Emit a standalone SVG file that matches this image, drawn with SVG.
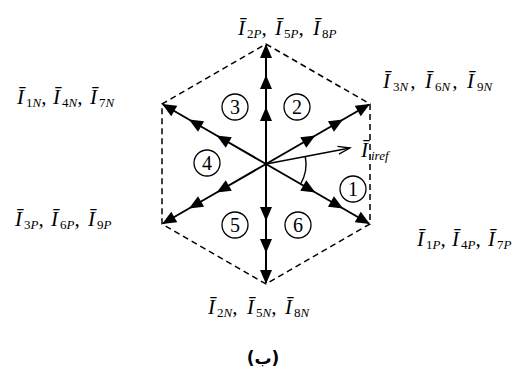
<svg xmlns="http://www.w3.org/2000/svg" width="520" height="376" viewBox="0 0 520 376">
<style>
.hex{fill:none;stroke:#000;stroke-width:1.5;stroke-dasharray:6 4}
.spoke{fill:none;stroke:#000;stroke-width:2;marker-mid:url(#ah);marker-end:url(#ah)}
.ref{fill:none;stroke:#000;stroke-width:1.4;marker-end:url(#oh)}
.arc{fill:none;stroke:#000;stroke-width:1.4}
.c{fill:none;stroke:#000;stroke-width:1.3}
.n{font-family:"Liberation Serif",serif;font-size:20px;text-anchor:middle;fill:#000}
.l{font-family:"Liberation Serif",serif;font-size:21px;font-style:italic;fill:#000}
.s{font-size:13px;font-style:normal}
.i{font-style:italic}
.cap{font-family:"DejaVu Sans",sans-serif;font-size:17px;font-weight:bold;text-anchor:middle;fill:#000}
</style>
<defs>
<marker id="ah" markerUnits="userSpaceOnUse" markerWidth="16" markerHeight="16" viewBox="-14 -8 16 16" refX="0" refY="0" orient="auto">
<path d="M1,0 L-13,-6 L-13,6 Z" fill="#000"/>
</marker>
<marker id="oh" markerUnits="userSpaceOnUse" markerWidth="16" markerHeight="16" viewBox="-14 -8 16 16" refX="0" refY="0" orient="auto">
<path d="M-12,-4 L0,0 L-12,4" fill="none" stroke="#000" stroke-width="1.3"/>
</marker>
</defs>
<g id="hexagon"><polygon class="hex" points="266,44 370,104 370,224 266,284 162,224 162,104"/></g>
<g id="connectors">
<polyline class="spoke" points="266,164 266,108 266,76 266,45"/>
<polyline class="spoke" points="266,164 266,220 266,252 266,283"/>
<polyline class="spoke" points="266,164 314.5,136 342.2,120 369,104.5"/>
<polyline class="spoke" points="266,164 314.5,192 342.2,208 369,223.5"/>
<polyline class="spoke" points="266,164 217.5,136 189.8,120 163,104.5"/>
<polyline class="spoke" points="266,164 217.5,192 189.8,208 163,223.5"/>
<line class="ref" x1="266" y1="164" x2="350" y2="148"/>
<path class="arc" d="M305.3,156.5 A40,40 0 0 1 300.6,184"/>
</g>
<g id="sector1"><circle class="c" cx="353" cy="189" r="13"/><text class="n" x="353" y="196">1</text></g>
<g id="sector2"><circle class="c" cx="297" cy="107" r="13"/><text class="n" x="297" y="114">2</text></g>
<g id="sector3"><circle class="c" cx="235" cy="107" r="13"/><text class="n" x="235" y="114">3</text></g>
<g id="sector4"><circle class="c" cx="207" cy="163" r="13"/><text class="n" x="207" y="170">4</text></g>
<g id="sector5"><circle class="c" cx="235" cy="225" r="13"/><text class="n" x="235" y="232">5</text></g>
<g id="sector6"><circle class="c" cx="298" cy="225" r="13"/><text class="n" x="298" y="232">6</text></g>
<g id="label-top"><text class="l" y="35"><tspan x="238">Ī</tspan><tspan class="s" dx="2" dy="3">2<tspan class="i">P</tspan></tspan><tspan dy="-3">,</tspan><tspan x="275">Ī</tspan><tspan class="s" dx="2" dy="3">5<tspan class="i">P</tspan></tspan><tspan dy="-3">,</tspan><tspan x="313">Ī</tspan><tspan class="s" dx="2" dy="3">8<tspan class="i">P</tspan></tspan></text></g>
<g id="label-bottom"><text class="l" y="314"><tspan x="208">Ī</tspan><tspan class="s" dx="2" dy="3">2<tspan class="i">N</tspan></tspan><tspan dy="-3">,</tspan><tspan x="247">Ī</tspan><tspan class="s" dx="2" dy="3">5<tspan class="i">N</tspan></tspan><tspan dy="-3">,</tspan><tspan x="285">Ī</tspan><tspan class="s" dx="2" dy="3">8<tspan class="i">N</tspan></tspan></text></g>
<g id="label-ul"><text class="l" y="104"><tspan x="17">Ī</tspan><tspan class="s" dx="2" dy="3">1<tspan class="i">N</tspan></tspan><tspan dy="-3">,</tspan><tspan x="53">Ī</tspan><tspan class="s" dx="2" dy="3">4<tspan class="i">N</tspan></tspan><tspan dy="-3">,</tspan><tspan x="90">Ī</tspan><tspan class="s" dx="2" dy="3">7<tspan class="i">N</tspan></tspan></text></g>
<g id="label-ll"><text class="l" y="226"><tspan x="15">Ī</tspan><tspan class="s" dx="2" dy="3">3<tspan class="i">P</tspan></tspan><tspan dy="-3">,</tspan><tspan x="51">Ī</tspan><tspan class="s" dx="2" dy="3">6<tspan class="i">P</tspan></tspan><tspan dy="-3">,</tspan><tspan x="88">Ī</tspan><tspan class="s" dx="2" dy="3">9<tspan class="i">P</tspan></tspan></text></g>
<g id="label-ur"><text class="l" y="88"><tspan x="383">Ī</tspan><tspan class="s" dx="3" dy="3">3<tspan class="i">N</tspan></tspan><tspan dx="2" dy="-3">,</tspan><tspan x="425">Ī</tspan><tspan class="s" dx="3" dy="3">6<tspan class="i">N</tspan></tspan><tspan dx="2" dy="-3">,</tspan><tspan x="467">Ī</tspan><tspan class="s" dx="3" dy="3">9<tspan class="i">N</tspan></tspan></text></g>
<g id="label-lr"><text class="l" y="246"><tspan x="417">Ī</tspan><tspan class="s" dx="2" dy="3">1<tspan class="i">P</tspan></tspan><tspan dy="-3">,</tspan><tspan x="452">Ī</tspan><tspan class="s" dx="2" dy="3">4<tspan class="i">P</tspan></tspan><tspan dy="-3">,</tspan><tspan x="488">Ī</tspan><tspan class="s" dx="2" dy="3">7<tspan class="i">P</tspan></tspan></text></g>
<g id="label-iref"><text class="l" x="361" y="157">Ī<tspan class="s i" dx="3" dy="3">iref</tspan></text></g>
<g id="caption"><text class="cap" x="263" y="364">(ب)</text></g>
</svg>
